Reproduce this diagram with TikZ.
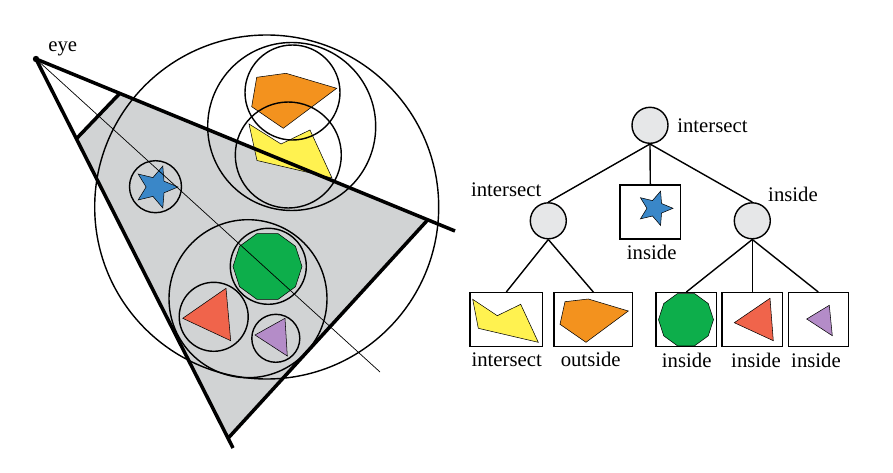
\documentclass[tikz,border=0pt]{standalone}
\usepackage{fontspec}
\setmainfont{Liberation Serif}
\usepackage{tikz}
\usetikzlibrary{shapes.geometric, positioning, calc}

\definecolor{frustgray}{RGB}{209,211,212}
\definecolor{nodegray}{RGB}{230,231,232}
\definecolor{shporange}{RGB}{243,146,30}
\definecolor{shpyellow}{RGB}{255,242,80}
\definecolor{shpblue}{RGB}{58,135,200}
\definecolor{shpgreen}{RGB}{13,174,75}
\definecolor{shpred}{RGB}{240,100,75}
\definecolor{shppurple}{RGB}{180,140,200}

% five-point star: centre, outer radius
\newcommand{\starshp}[2]{%
  \draw[shp, fill=shpblue] (#1) +(0:#2)
    \foreach \a in {36,72,...,324}{
      -- +(\a:{ifthenelse(mod(\a,72)==0,1,0.45)*#2})
    } -- cycle;}

\begin{document}
\begin{tikzpicture}[
    x=0.02cm, y=-0.02cm,
    font=\fontsize{11.8}{14}\selectfont,
    bvol/.style={draw, line width=0.8pt},
    frustedge/.style={line width=2pt},
    sightline/.style={line width=0.4pt},
    shp/.style={draw, line width=0.3pt},
    treenode/.style={circle, draw, line width=0.8pt, fill=nodegray, minimum size=0.72cm, inner sep=0pt},
    treeleaf/.style={draw, line width=0.8pt, inner sep=0pt, minimum height=1.08cm},
    treeedge/.style={line width=0.8pt},
    treelabel/.style={inner sep=0pt}
]
\useasboundingbox (0,0) rectangle (893,473);

% view frustum
\coordinate (eye) at (36,59);
\coordinate (topend) at (455,231);
\coordinate (leftend) at (233,448);
\coordinate (sightend) at (380,372);
\coordinate (nearT) at ($(eye)!0.2!(topend)$);
\coordinate (nearL) at ($(eye)!0.205!(leftend)$);
\coordinate (farT) at ($(eye)!0.935!(topend)$);
\coordinate (farL) at ($(eye)!0.975!(leftend)$);

\fill[frustgray] (nearT) -- (nearL) -- (farL) -- (farT) -- cycle;

% objects
\draw[shp, fill=shporange] (256.7,77.3) -- (286,73.3) -- (336.7,88.3) -- (283.3,128.3) -- (251.7,106.7) -- cycle;
\draw[shp, fill=shpyellow] (249,124) -- (281,144) -- (310,130) -- (332,178) -- (257,160.5) -- cycle;
\coordinate (starc) at (156,187);
\starshp{starc}{22}
\node[regular polygon, regular polygon sides=10, shp, fill=shpgreen, minimum size=1.38cm, inner sep=0pt] (deca) at (267.5,266.5) {};
\draw[shp, fill=shpred] (182.7,318.3) -- (226,288.3) -- (230.7,340.7) -- cycle;
\draw[shp, fill=shppurple] (255,335) -- (285,318.3) -- (287.3,356) -- cycle;

% bounding spheres
\draw[bvol] (266.7,207) circle (172);
\draw[bvol] (291.7,126.5) circle (84);
\draw[bvol] (292.5,92.5) circle (47.5);
\draw[bvol] (288.3,155) circle (53);
\draw[bvol] (155.5,186.7) circle (26);
\draw[bvol] (248,298.7) circle (79);
\draw[bvol] (268.3,266.3) circle (38);
\draw[bvol] (213.7,316.8) circle (34.5);
\draw[bvol] (275.8,338.3) circle (24);

\draw[frustedge] (eye) -- (topend);
\draw[frustedge] (eye) -- (leftend);
\draw[frustedge] (nearT) -- (nearL);
\draw[frustedge] (farL) -- (farT);
\draw[sightline] (eye) -- (sightend);
\fill (eye) circle (3.2);
\node[treelabel, anchor=base west] (eyelbl) at (48,51.7) {eye};

% hierarchy
\node[treenode] (root) at (650,125.3) {};
\node[treenode] (lc) at (548.3,220.8) {};
\node[treenode] (rc) at (752.3,220.8) {};
\node[treeleaf, minimum width=1.21cm] (mid) at (650.3,212) {};
\node[treeleaf, minimum width=1.45cm] (leaf1) at (506.3,319.7) {};
\node[treeleaf, minimum width=1.57cm] (leaf2) at (593.3,319.7) {};
\node[treeleaf, minimum width=1.21cm] (leaf3) at (686.3,319.7) {};
\node[treeleaf, minimum width=1.21cm] (leaf4) at (752.3,319.7) {};
\node[treeleaf, minimum width=1.2cm] (leaf5) at (818.3,319.7) {};

\draw[treeedge] (root.south) -- (lc.north);
\draw[treeedge] (root.south) -- (mid.north);
\draw[treeedge] (root.south) -- (rc.north);
\draw[treeedge] (lc.south) -- (leaf1.north);
\draw[treeedge] (lc.south) -- (leaf2.north);
\draw[treeedge] (rc.south) -- (leaf3.north);
\draw[treeedge] (rc.south) -- (leaf4.north);
\draw[treeedge] (rc.south) -- (leaf5.north);

% leaf contents
\coordinate (midstar) at (655,208.3);
\starshp{midstar}{18}
\draw[shp, fill=shpyellow] (472.7,299.3) -- (497.3,315.7) -- (520.7,304.3) -- (538.3,342.3) -- (478.3,328.3) -- cycle;
\draw[shp, fill=shporange] (565,301.7) -- (588.3,299) -- (628.3,311) -- (586,342.3) -- (560,324.3) -- cycle;
\node[regular polygon, regular polygon sides=10, shp, fill=shpgreen, minimum size=1.1cm, inner sep=0pt] (leafdeca) at (686,319.7) {};
\draw[shp, fill=shpred] (734.3,322.7) -- (770,298.3) -- (773.3,340.7) -- cycle;
\draw[shp, fill=shppurple] (806.7,319) -- (829.3,305.3) -- (832.3,335.7) -- cycle;

% labels
\node[treelabel, anchor=base west] (rootlbl) at (677,132.3) {intersect};
\node[treelabel, anchor=base] (lclbl) at (506.2,196.7) {intersect};
\node[treelabel, anchor=base] (rclbl) at (793,201.7) {inside};
\node[treelabel, anchor=base] (midlbl) at (651.7,259.3) {inside};
\node[treelabel, anchor=base] (leaf1lbl) at (506.7,366) {intersect};
\node[treelabel, anchor=base] (leaf2lbl) at (590.7,366) {outside};
\node[treelabel, anchor=base] (leaf3lbl) at (686.7,367) {inside};
\node[treelabel, anchor=base] (leaf4lbl) at (756,367) {inside};
\node[treelabel, anchor=base] (leaf5lbl) at (816,367) {inside};
\end{tikzpicture}
\end{document}
